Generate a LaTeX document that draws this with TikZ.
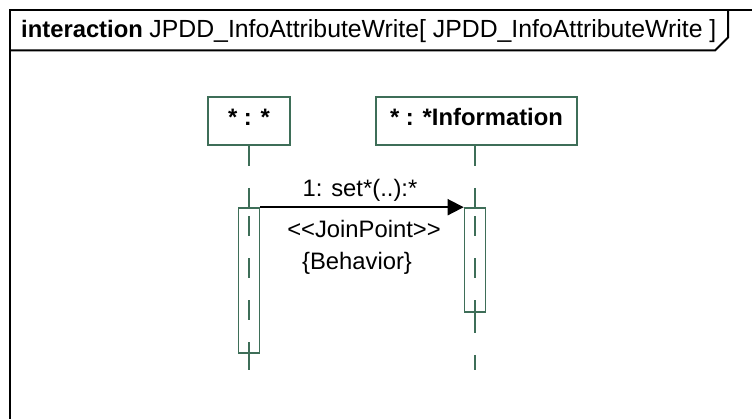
\documentclass[tikz,border=0pt]{standalone}
\usepackage{fontspec}
\setmainfont{Liberation Sans}
\usepackage{tikz}
\usetikzlibrary{arrows.meta}
\definecolor{SDGreen}{HTML}{3E6E58}
\definecolor{SDInk}{HTML}{000000}

\begin{document}
\begin{tikzpicture}[x=1pt,y=-1pt,
  objbox/.style={draw=SDGreen,line width=1.6pt,minimum height=48pt,inner sep=0pt,
    font=\fontsize{23.8}{26}\selectfont\bfseries,text height=17pt,text depth=7pt},
  actbox/.style={draw=SDGreen,line width=1.6pt,minimum width=21pt,inner sep=0pt},
  lifeline/.style={SDGreen,line width=1.6pt,dash pattern=on 20pt off 22pt},
  msg/.style={SDInk,line width=1.8pt,-{Triangle[length=16pt,width=16pt]}},
  lbl/.style={anchor=base,inner sep=0pt,font=\fontsize{23.8}{26}\selectfont}]
\path[use as bounding box] (0,0) rectangle (752,419);
% frame
\draw[SDInk,line width=2pt] (752,10.5) -| (9.5,419);
\draw[SDInk,line width=2pt] (9.5,50.5) -- (715,50.5) -- (728,37.5) -- (728,10.5);
\node[lbl,anchor=base west] (framelabel) at (21,38)
  {\textbf{interaction} {\fontsize{24.8}{26}\selectfont JPDD\_InfoAttributeWrite[ JPDD\_InfoAttributeWrite ]}};
% lifelines
\node[objbox,minimum width=82pt] (anyobj) at (249,121) {* : *};
\node[objbox,minimum width=201pt] (infoobj) at (476.5,121) {* : *Information};
\node[actbox,minimum height=145pt] (actany) at (249,280.5) {};
\node[actbox,minimum height=104pt] (actinfo) at (475,260) {};
\coordinate (anyend) at (249,370);
\coordinate (infoend) at (475,370);
\draw[lifeline] (anyobj.south) -- (actany.north);
\draw[lifeline,dash phase=33pt] (actany.north) -- (actany.south);
\draw[lifeline] (actany.south) -- (anyend);
\draw[lifeline] (infoobj.south -| actinfo.north) -- (actinfo.north);
\draw[lifeline,dash phase=33pt] (actinfo.north) -- (actinfo.south);
\draw[lifeline] (actinfo.south) -- (infoend);
% message
\draw[msg] (actany.north east) -- (actinfo.north west);
\node[lbl] (msgname) at (360,197) {1: set*(..):*};
\node[lbl] (msgstereo) at (364,238) {<{}<JoinPoint>{}>};
\node[lbl] (msgprop) at (357,270) {\{Behavior\}};
\end{tikzpicture}
\end{document}
